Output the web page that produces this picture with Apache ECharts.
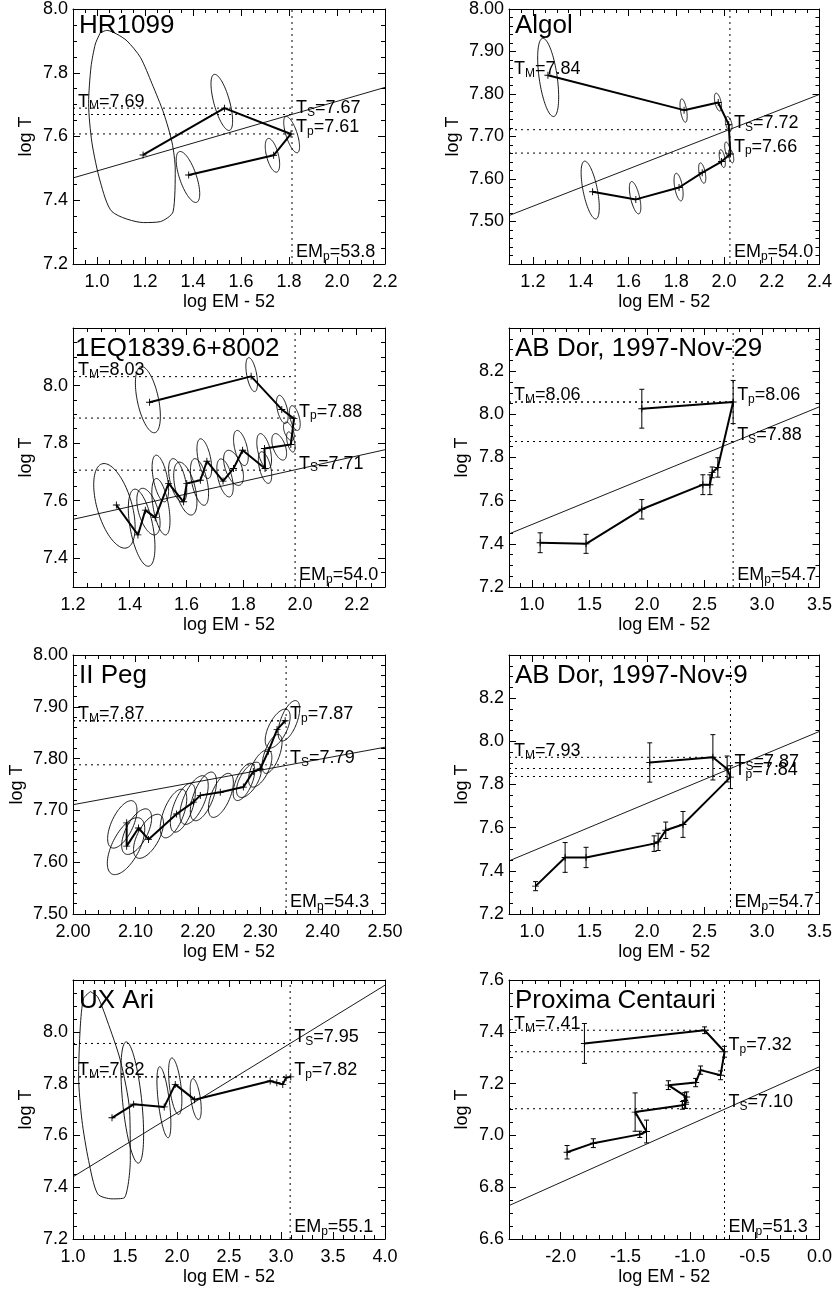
<!DOCTYPE html>
<html><head><meta charset="utf-8">
<script src="https://cdn.jsdelivr.net/npm/echarts@6/dist/echarts.min.js"></script>
<style>html,body{margin:0;padding:0;background:#fff}#c{width:835px;height:1290px}</style>
</head><body><div id="c"></div>
<script>
const FONT = '"Liberation Sans", Arial, Helvetica, sans-serif';

// ---------- Panel 1: HR1099 ----------
const hr_xRange = [0.9, 2.2], hr_yRange = [7.2, 8.0];
const hr_xTicks = [1.0, 1.2, 1.4, 1.6, 1.8, 2.0, 2.2];
const hr_yTicks = [7.2, 7.4, 7.6, 7.8, 8.0];
const hr_track = [[1.192,7.542],[1.531,7.689],[1.808,7.608],[1.736,7.541],[1.382,7.479]];
const hr_ellipses = [[1.520,7.707,0.045,0.088,-0.66],[1.811,7.606,0.033,0.057,-0.67],[1.731,7.541,0.030,0.053,-0.53],[1.379,7.473,0.049,0.080,-0.66]];
const hr_contour = [[1.014,7.926],[1.042,7.933],[1.083,7.921],[1.125,7.900],[1.181,7.848],[1.229,7.766],[1.278,7.673],[1.313,7.580],[1.326,7.498],[1.317,7.364],[1.264,7.333],[1.194,7.330],[1.063,7.364],[1.014,7.457],[0.979,7.580],[0.965,7.704],[0.975,7.818],[0.993,7.890],[1.014,7.926]];
const hr_fit = [[0.9,7.470],[2.2,7.754]];
const hr_T = [7.689, 7.669, 7.608];
const hr_Tlabels = ['7.69','7.67','7.61'];
const hr_EMp = 1.8125, hr_EMpLabel = '53.8';

// ---------- Panel 2: Algol ----------
const al_xRange = [1.1, 2.4], al_yRange = [7.4, 8.0];
const al_xTicks = [1.2, 1.4, 1.6, 1.8, 2.0, 2.2, 2.4];
const al_yTicks = [7.5, 7.6, 7.7, 7.8, 7.9, 8.0];
const al_track = [[1.263,7.844],[1.833,7.762],[1.976,7.780],[2.020,7.728],[2.027,7.659],[1.990,7.641],[1.909,7.615],[1.812,7.580],[1.631,7.552],[1.450,7.570]];
const al_ellipses = [[1.264,7.839,0.044,0.092,-0.5],[1.831,7.761,0.015,0.0275,-0.5],[1.975,7.781,0.015,0.021,-0.5],[2.020,7.730,0.014,0.017,-0.4],[2.015,7.669,0.012,0.018,-0.5],[2.030,7.654,0.011,0.016,-0.5],[1.993,7.648,0.013,0.021,-0.5],[1.909,7.614,0.015,0.024,-0.5],[1.810,7.581,0.019,0.0325,-0.5],[1.628,7.556,0.024,0.038,-0.6],[1.440,7.574,0.038,0.068,-0.6]];
const al_fit = [[1.1,7.514],[2.4,7.799]];
const al_T = [7.844, 7.716, 7.661];
const al_Tlabels = ['7.84','7.72','7.66'];
const al_EMp = 2.025, al_EMpLabel = '54.0';

// ---------- Panel 3: 1EQ1839.6+8002 ----------
const eq_xRange = [1.2, 2.3], eq_yRange = [7.3, 8.2];
const eq_xTicks = [1.2, 1.4, 1.6, 1.8, 2.0, 2.2];
const eq_yTicks = [7.4, 7.6, 7.8, 8.0];
const eq_track = [[1.470,7.942],[1.828,8.032],[1.936,7.917],[1.979,7.885],[1.968,7.795],[1.875,7.781],[1.877,7.712],[1.798,7.775],[1.766,7.712],[1.729,7.668],[1.672,7.737],[1.649,7.671],[1.601,7.660],[1.590,7.596],[1.537,7.660],[1.490,7.541],[1.455,7.567],[1.429,7.481],[1.353,7.585]];
const eq_ellipses = [[1.464,7.951,0.044,0.115,-0.5],[1.830,8.038,0.0205,0.059,-0.5],[1.938,7.917,0.0205,0.049,-0.5],[1.982,7.887,0.019,0.043,-0.5],[1.961,7.841,0.019,0.032,-0.5],[1.968,7.804,0.015,0.035,-0.5],[1.927,7.787,0.026,0.046,-0.5],[1.874,7.772,0.026,0.061,-0.5],[1.877,7.715,0.0235,0.055,-0.5],[1.792,7.783,0.026,0.061,-0.5],[1.766,7.714,0.035,0.061,-0.5],[1.736,7.679,0.029,0.066,-0.5],[1.663,7.746,0.026,0.069,-0.5],[1.646,7.665,0.032,0.081,-0.5],[1.596,7.642,0.041,0.092,-0.5],[1.569,7.671,0.032,0.075,-0.5],[1.508,7.677,0.029,0.081,-0.5],[1.510,7.579,0.032,0.098,-0.5],[1.466,7.562,0.041,0.081,-0.5],[1.346,7.582,0.073,0.147,-0.5],[1.442,7.506,0.047,0.134,-0.5]];
const eq_fit = [[1.2,7.535],[2.3,7.777]];
const eq_T = [8.031, 7.706, 7.887];
const eq_Tlabels = ['8.03','7.71','7.88'];
const eq_EMp = 1.983, eq_EMpLabel = '54.0';

// ---------- Panel 4: AB Dor, 1997-Nov-29 ----------
const d29_xRange = [0.8, 3.5], d29_yRange = [7.2, 8.4];
const d29_xTicks = [1.0, 1.5, 2.0, 2.5, 3.0, 3.5];
const d29_yTicks = [7.2, 7.4, 7.6, 7.8, 8.0, 8.2];
const d29_track = [[1.955,8.026,0.09],[2.749,8.057,0.10],[2.616,7.754,0.045],[2.567,7.731,0.025],[2.547,7.674,0.046],[2.486,7.674,0.046],[1.955,7.560,0.045],[1.470,7.400,0.044],[1.071,7.405,0.046]];
const d29_fit = [[0.8,7.446],[3.5,8.035]];
const d29_T = [8.057, 7.874, 8.057];
const d29_Tlabels = ['8.06','7.88','8.06'];
const d29_EMp = 2.749, d29_EMpLabel = '54.7';

// ---------- Panel 5: II Peg ----------
const pg_xRange = [2.0, 2.5], pg_yRange = [7.5, 8.0];
const pg_xTicks = [2.0, 2.1, 2.2, 2.3, 2.4, 2.5];
const pg_yTicks = [7.5, 7.6, 7.7, 7.8, 7.9, 8.0];
const pg_track = [[2.086,7.676],[2.086,7.631],[2.105,7.666],[2.121,7.644],[2.166,7.693],[2.193,7.716],[2.204,7.729],[2.236,7.735],[2.273,7.745],[2.289,7.775],[2.300,7.780],[2.313,7.814],[2.327,7.856],[2.340,7.873]];
const pg_ellipses = [[2.079,7.673,0.0235,0.0458,0.6],[2.085,7.631,0.030,0.055,0.6],[2.102,7.659,0.024,0.044,0.6],[2.121,7.650,0.024,0.0425,0.6],[2.161,7.694,0.0213,0.047,0.6],[2.176,7.705,0.020,0.047,0.6],[2.194,7.720,0.0227,0.047,0.6],[2.209,7.727,0.021,0.047,0.6],[2.237,7.729,0.020,0.0425,0.6],[2.274,7.755,0.0173,0.036,0.6],[2.282,7.759,0.020,0.034,0.6],[2.300,7.781,0.0187,0.036,0.6],[2.319,7.809,0.016,0.0376,0.6],[2.328,7.858,0.020,0.0376,0.6],[2.346,7.873,0.0173,0.039,0.6]];
const pg_fit = [[2.0,7.711],[2.5,7.822]];
const pg_T = [7.873, 7.788, 7.873];
const pg_Tlabels = ['7.87','7.79','7.87'];
const pg_EMp = 2.3415, pg_EMpLabel = '54.3';

// ---------- Panel 6: AB Dor, 1997-Nov-9 ----------
const d9_xRange = [0.8, 3.5], d9_yRange = [7.2, 8.4];
const d9_xTicks = [1.0, 1.5, 2.0, 2.5, 3.0, 3.5];
const d9_yTicks = [7.2, 7.4, 7.6, 7.8, 8.0, 8.2];
const d9_track = [[2.024,7.902,0.091],[2.573,7.926,0.105],[2.697,7.872,0.06],[2.726,7.834,0.053],[2.313,7.615,0.06],[2.163,7.588,0.038],[2.097,7.534,0.04],[2.062,7.526,0.036],[1.470,7.462,0.047],[1.288,7.462,0.069],[1.031,7.329,0.021]];
const d9_fit = [[0.8,7.446],[3.5,8.046]];
const d9_T = [7.926, 7.874, 7.837];
const d9_Tlabels = ['7.93','7.87','7.84'];
const d9_EMp = 2.726, d9_EMpLabel = '54.7';

// ---------- Panel 7: UX Ari ----------
const ux_xRange = [1.0, 4.0], ux_yRange = [7.2, 8.2];
const ux_xTicks = [1.0, 1.5, 2.0, 2.5, 3.0, 3.5, 4.0];
const ux_yTicks = [7.2, 7.4, 7.6, 7.8, 8.0];
const ux_track = [[1.375,7.668],[1.583,7.720],[1.877,7.710],[1.983,7.797],[2.169,7.738],[2.896,7.810],[2.960,7.803],[3.017,7.797],[3.049,7.823],[3.094,7.826]];
const ux_ellipses = [[1.570,7.727,0.109,0.234,-0.53],[1.874,7.728,0.067,0.137,-0.6],[1.983,7.790,0.064,0.109,-0.5],[2.180,7.740,0.053,0.079,-0.5]];
const ux_contour = [[1.167,8.155],[1.102,8.129],[1.070,8.019],[1.054,7.826],[1.086,7.658],[1.150,7.503],[1.237,7.374],[1.375,7.355],[1.493,7.359],[1.551,7.503],[1.544,7.697],[1.455,7.890],[1.327,8.045],[1.237,8.135],[1.167,8.155]];
const ux_fit = [[1.0,7.44],[4.0,8.18]];
const ux_T = [7.826, 7.955, 7.826];
const ux_Tlabels = ['7.82','7.95','7.82'];
const ux_EMp = 3.088, ux_EMpLabel = '55.1';

// ---------- Panel 8: Proxima Centauri ----------
const px_xRange = [-2.4, 0.0], px_yRange = [6.6, 7.6];
const px_xTicks = [-2.0, -1.5, -1.0, -0.5, 0.0];
const px_yTicks = [6.6, 6.8, 7.0, 7.2, 7.4, 7.6];
const px_track = [[-1.817,7.355,0.077],[-0.888,7.406,0.013],[-0.734,7.323,0.021],[-0.765,7.232,0.017],[-0.919,7.252,0.016],[-0.957,7.204,0.016],[-1.168,7.194,0.017],[-1.027,7.148,0.02],[-1.042,7.135,0.03],[-1.035,7.120,0.016],[-1.060,7.116,0.015],[-1.425,7.090,0.074],[-1.337,7.015,0.044],[-1.389,7.004,0.012],[-1.748,6.970,0.017],[-1.951,6.935,0.026]];
const px_fit = [[-2.4,6.729],[0.0,7.265]];
const px_T = [7.406, 7.103, 7.323];
const px_Tlabels = ['7.41','7.10','7.32'];
const px_EMp = -0.734, px_EMpLabel = '51.3';

const panels = [
  {title:'HR1099', xr:hr_xRange, yr:hr_yRange, xt:hr_xTicks, yt:hr_yTicks, xd:1, yd:1, xm:0.05, ym:0.05, track:hr_track, ell:hr_ellipses, contour:hr_contour, fit:hr_fit, T:hr_T, TL:hr_Tlabels, EMp:hr_EMp, EMpL:hr_EMpLabel, tmLine:true, err:false},
  {title:'Algol', xr:al_xRange, yr:al_yRange, xt:al_xTicks, yt:al_yTicks, xd:1, yd:2, xm:0.05, ym:0.02, track:al_track, ell:al_ellipses, fit:al_fit, T:al_T, TL:al_Tlabels, EMp:al_EMp, EMpL:al_EMpLabel, tmLine:false, err:false},
  {title:'1EQ1839.6+8002', xr:eq_xRange, yr:eq_yRange, xt:eq_xTicks, yt:eq_yTicks, xd:1, yd:1, xm:0.05, ym:0.05, track:eq_track, ell:eq_ellipses, fit:eq_fit, T:eq_T, TL:eq_Tlabels, EMp:eq_EMp, EMpL:eq_EMpLabel, tmLine:true, err:false, titleDx:2},
  {title:'AB Dor, 1997-Nov-29', xr:d29_xRange, yr:d29_yRange, xt:d29_xTicks, yt:d29_yTicks, xd:1, yd:1, xm:0.1, ym:0.05, track:d29_track, fit:d29_fit, T:d29_T, TL:d29_Tlabels, EMp:d29_EMp, EMpL:d29_EMpLabel, tmLine:true, err:true},
  {title:'II Peg', xr:pg_xRange, yr:pg_yRange, xt:pg_xTicks, yt:pg_yTicks, xd:2, yd:2, xm:0.02, ym:0.02, track:pg_track, ell:pg_ellipses, fit:pg_fit, T:pg_T, TL:pg_Tlabels, EMp:pg_EMp, EMpL:pg_EMpLabel, tmLine:true, err:false},
  {title:'AB Dor, 1997-Nov-9', xr:d9_xRange, yr:d9_yRange, xt:d9_xTicks, yt:d9_yTicks, xd:1, yd:1, xm:0.1, ym:0.05, track:d9_track, fit:d9_fit, T:d9_T, TL:d9_Tlabels, EMp:d9_EMp, EMpL:d9_EMpLabel, tmLine:true, err:true},
  {title:'UX Ari', xr:ux_xRange, yr:ux_yRange, xt:ux_xTicks, yt:ux_yTicks, xd:1, yd:1, xm:0.1, ym:0.05, track:ux_track, ell:ux_ellipses, contour:ux_contour, fit:ux_fit, T:ux_T, TL:ux_Tlabels, EMp:ux_EMp, EMpL:ux_EMpLabel, tmLine:true, err:false},
  {title:'Proxima Centauri', xr:px_xRange, yr:px_yRange, xt:px_xTicks, yt:px_yTicks, xd:1, yd:1, xm:0.1, ym:0.05, track:px_track, fit:px_fit, T:px_T, TL:px_Tlabels, EMp:px_EMp, EMpL:px_EMpLabel, tmLine:true, err:true}
];

// layout
const colLeft = [73, 509], gridW = 312;
const rowTop = [5, 328, 655, 980], gridH = 259;
const FS = 18;
const PLUS = 'path://M-1,-0.13H1V0.13H-1Z M-0.13,-1H0.13V1H-0.13Z';
const RICH = {
  n: {fontSize: FS, fontFamily: FONT, fill: '#000', lineHeight: 21},
  s: {fontSize: 12, fontFamily: FONT, fill: '#000', lineHeight: 10, verticalAlign: 'bottom'}
};

function minors(r, step) {
  const a = [];
  const n0 = Math.ceil(r[0] / step - 1e-9), n1 = Math.floor(r[1] / step + 1e-9);
  for (let n = n0; n <= n1; n++) a.push(+(n * step).toFixed(6));
  return a;
}
function baseAxis(gi, r, pos) {
  return {type: 'value', gridIndex: gi, min: r[0], max: r[1], position: pos, scale: true,
    splitLine: {show: false}, axisLine: {show: false, onZero: false},
    axisLabel: {show: false}, axisTick: {show: false}};
}
function tickAxis(gi, r, pos, vals, len, line) {
  const a = baseAxis(gi, r, pos);
  a.axisLine = {show: !!line, onZero: false, lineStyle: {color: '#000', width: 1}};
  a.axisTick = {show: true, inside: true, length: len, customValues: vals, lineStyle: {color: '#000', width: 1}};
  return a;
}

const grids = [], xAxes = [], yAxes = [], series = [], titles = [];

function ellipseRender(params, api) {
  const cx = api.value(0), cy = api.value(1), sx = api.value(2), sy = api.value(3), r = api.value(4);
  const q = Math.sqrt(1 - r * r), pts = [];
  for (let k = 0; k <= 90; k++) {
    const t = k / 90 * 2 * Math.PI;
    pts.push(api.coord([cx + sx * Math.cos(t), cy + sy * (r * Math.cos(t) + q * Math.sin(t))]));
  }
  return {type: 'polyline', shape: {points: pts}, style: {stroke: '#000', fill: null, lineWidth: 0.9}};
}
function errRender(params, api) {
  const x = api.value(0), y = api.value(1), e = api.value(2);
  const t = api.coord([x, y + e]), b = api.coord([x, y - e]), w = 2.5;
  const st = {stroke: '#000', lineWidth: 1};
  return {type: 'group', children: [
    {type: 'line', shape: {x1: t[0], y1: t[1], x2: b[0], y2: b[1]}, style: st},
    {type: 'line', shape: {x1: t[0] - w, y1: t[1], x2: t[0] + w, y2: t[1]}, style: st},
    {type: 'line', shape: {x1: b[0] - w, y1: b[1], x2: b[0] + w, y2: b[1]}, style: st}
  ]};
}

panels.forEach((p, i) => {
  const left = colLeft[i % 2], top = rowTop[Math.floor(i / 2)];
  grids.push({left: left, top: top, width: gridW, height: gridH});
  const xi = xAxes.length, yi = yAxes.length;
  // x axes
  const xMain = tickAxis(i, p.xr, 'bottom', p.xt, 7, true);
  xMain.axisLabel = {show: true, customValues: p.xt, formatter: (v) => Number(v).toFixed(p.xd), margin: 9,
    fontSize: FS, fontFamily: FONT, color: '#000'};
  xMain.name = 'log EM - 52'; xMain.nameLocation = 'middle'; xMain.nameGap = 29;
  xMain.nameTextStyle = {fontSize: FS, fontFamily: FONT, color: '#000'};
  xAxes.push(xMain,
    tickAxis(i, p.xr, 'bottom', minors(p.xr, p.xm), 4, false),
    tickAxis(i, p.xr, 'top', p.xt, 7, true),
    tickAxis(i, p.xr, 'top', minors(p.xr, p.xm), 4, false));
  // y axes
  const yMain = tickAxis(i, p.yr, 'left', p.yt, 7, true);
  yMain.axisLabel = {show: true, customValues: p.yt, formatter: (v) => Number(v).toFixed(p.yd), margin: 5,
    fontSize: FS, fontFamily: FONT, color: '#000'};
  yMain.name = 'log T'; yMain.nameLocation = 'middle'; yMain.nameGap = p.yd === 2 ? 47 : 38;
  yMain.nameTextStyle = {fontSize: FS, fontFamily: FONT, color: '#000'};
  yAxes.push(yMain,
    tickAxis(i, p.yr, 'left', minors(p.yr, p.ym), 4, false),
    tickAxis(i, p.yr, 'right', p.yt, 7, true),
    tickAxis(i, p.yr, 'right', minors(p.yr, p.ym), 4, false));

  const ax = {xAxisIndex: xi, yAxisIndex: yi};
  const thin = {color: '#000', width: 0.9};
  const dotted = {color: '#000', width: 1, type: [2, 4]};

  if (p.contour) series.push(Object.assign({type: 'line', data: p.contour, symbol: 'none', smooth: 0.25,
    lineStyle: thin, silent: true, clip: true}, ax));
  if (p.ell) series.push(Object.assign({type: 'custom', data: p.ell, renderItem: ellipseRender,
    encode: {x: 0, y: 1}, clip: true, silent: true}, ax));
  series.push(Object.assign({type: 'line', data: p.fit, symbol: 'none', lineStyle: thin, silent: true, clip: true}, ax));
  // horizontal dotted lines
  p.T.forEach((t, k) => {
    if (k === 0 && !p.tmLine) return;
    series.push(Object.assign({type: 'line', data: [[p.xr[0], t], [p.EMp, t]], symbol: 'none',
      lineStyle: dotted, silent: true}, ax));
  });
  // vertical dotted line
  series.push(Object.assign({type: 'line', data: [[p.EMp, p.yr[0]], [p.EMp, p.yr[1]]], symbol: 'none',
    lineStyle: dotted, silent: true}, ax));
  if (p.err) series.push(Object.assign({type: 'custom', data: p.track, renderItem: errRender,
    encode: {x: 0, y: 1}, silent: true}, ax));
  series.push(Object.assign({type: 'line', data: p.track.map(d => [d[0], d[1]]), symbol: PLUS, symbolSize: 7,
    itemStyle: {color: '#000'}, lineStyle: {color: '#000', width: 2}, silent: true, clip: true}, ax));
  // annotations
  const texts = [
    '{n|T}{s|M}{n|=' + p.TL[0] + '}',
    '{n|T}{s|S}{n|=' + p.TL[1] + '}',
    '{n|T}{s|p}{n|=' + p.TL[2] + '}',
    '{n|EM}{s|p}{n|=' + p.EMpL + '}'
  ];
  const anchors = [[p.xr[0], p.T[0]], [p.EMp, p.T[1]], [p.EMp, p.T[2]], [p.EMp, p.yr[0]]];
  series.push(Object.assign({type: 'custom', data: anchors, encode: {x: 0, y: 1}, silent: true, clip: false, z: 5,
    renderItem: (params, api) => {
      const k = params.dataIndex;
      const pt = api.coord([api.value(0), api.value(1)]);
      const dx = k === 0 ? 5 : 4, dy = k === 3 ? -1 : 4;
      return {type: 'text', x: pt[0] + dx, y: pt[1] + dy,
        style: {text: texts[k], rich: RICH, fill: '#000', align: 'left', verticalAlign: 'bottom', fontSize: FS, fontFamily: FONT}};
    }}, ax));

  titles.push({text: p.title, left: left + (p.titleDx !== undefined ? p.titleDx : 6), top: top + 8, padding: 0,
    textStyle: {fontSize: 26, fontWeight: 'normal', fontFamily: FONT, color: '#000'}});
});

const chart = echarts.init(document.getElementById('c'), null, {renderer: 'canvas'});
chart.setOption({
  animation: false,
  backgroundColor: '#fff',
  title: titles,
  grid: grids,
  xAxis: xAxes,
  yAxis: yAxes,
  series: series
});
</script></body></html>
